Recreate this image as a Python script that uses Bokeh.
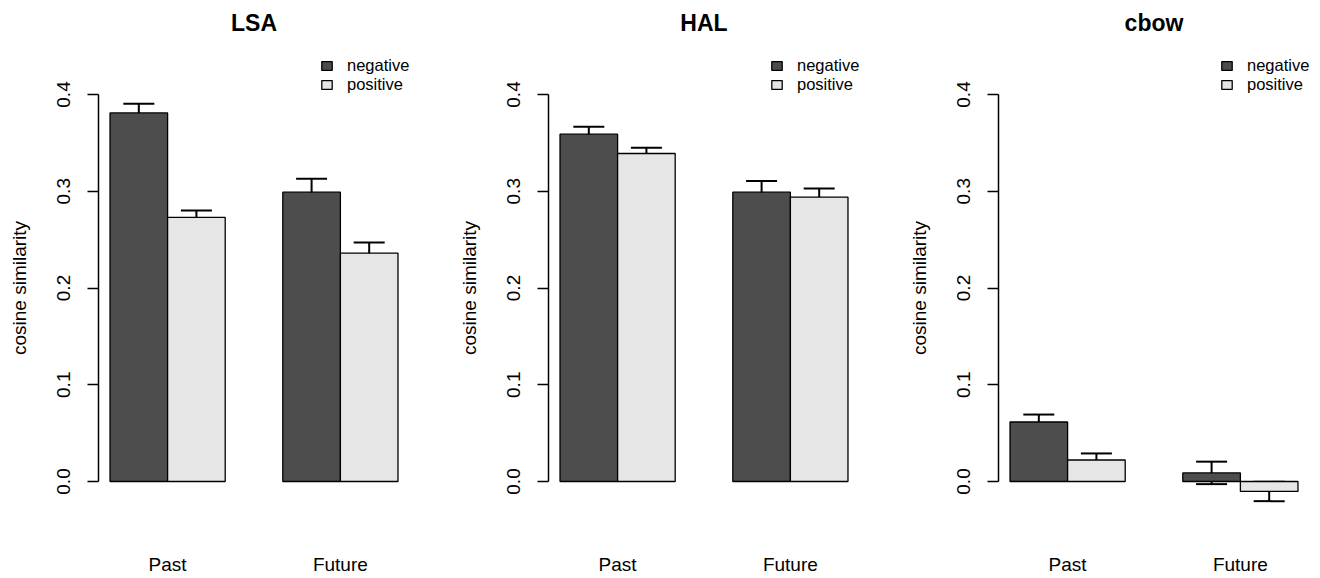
from bokeh.plotting import figure
from bokeh.layouts import row
from bokeh.models import (ColumnDataSource, Whisker, TeeHead, FixedTicker, PrintfTickFormatter,
                          Range1d, LinearAxis)
from bokeh.embed import file_html
from bokeh.resources import INLINE

# ---- data ----
categories = ["Past", "Future"]
series = ["negative", "positive"]
panels = ["LSA", "HAL", "cbow"]

lsa_negative = [0.381, 0.299]
lsa_positive = [0.273, 0.236]
lsa_negative_se = [0.0095, 0.014]
lsa_positive_se = [0.007, 0.011]

hal_negative = [0.359, 0.299]
hal_positive = [0.339, 0.294]
hal_negative_se = [0.0077, 0.0115]
hal_positive_se = [0.006, 0.0088]

cbow_negative = [0.0615, 0.0089]
cbow_positive = [0.0222, -0.0103]
cbow_negative_se = [0.0077, 0.0116]
cbow_positive_se = [0.0068, 0.0100]

y_ticks = [0.0, 0.1, 0.2, 0.3, 0.4]
y_label = "cosine similarity"

means = {"LSA": [lsa_negative, lsa_positive],
         "HAL": [hal_negative, hal_positive],
         "cbow": [cbow_negative, cbow_positive]}
ses = {"LSA": [lsa_negative_se, lsa_positive_se],
       "HAL": [hal_negative_se, hal_positive_se],
       "cbow": [cbow_negative_se, cbow_positive_se]}

colors = ["#4d4d4d", "#e6e6e6"]
FONT = "Liberation Sans"

# layout in pixels (figure coordinates)
PX_PER_UNIT = 967.5
FIG_H = 578
FRAME_TOP = 54
FRAME_BOTTOM = 521
ZERO_Y = 481
y_start = -(FRAME_BOTTOM - ZERO_Y) / PX_PER_UNIT
y_end = (ZERO_Y - FRAME_TOP) / PX_PER_UNIT


def make_panel(name, right_border):
    p = figure(frame_width=311, frame_height=FRAME_BOTTOM - FRAME_TOP,
               output_backend="svg", toolbar_location=None,
               x_range=Range1d(0.8, 6.2), y_range=Range1d(y_start, y_end),
               min_border_left=98, min_border_right=right_border,
               min_border_top=FRAME_TOP, min_border_bottom=FIG_H - FRAME_BOTTOM,
               background_fill_color="white", border_fill_color="white")
    p.outline_line_color = None
    p.xgrid.visible = False
    p.ygrid.visible = False
    p.title.text = ""
    p.title.standoff = 0

    # panel title, drawn as the label of a bare axis above the frame
    ta = LinearAxis(ticker=FixedTicker(ticks=[]), axis_label=name)
    ta.axis_line_color = None
    ta.major_tick_line_color = None
    ta.minor_tick_line_color = None
    ta.major_tick_out = 0
    ta.major_tick_in = 0
    ta.major_label_standoff = 0
    ta.axis_label_standoff = 19
    ta.axis_label_text_font = FONT
    ta.axis_label_text_font_size = "23px"
    ta.axis_label_text_font_style = "bold"
    ta.axis_label_text_color = "black"
    p.add_layout(ta, "above")

    ngroups = len(categories)
    nser = len(series)
    for j, s in enumerate(series):
        xs = [1.5 + (nser + 1) * i + j for i in range(ngroups)]
        m = means[name][j]
        e = ses[name][j]
        src = ColumnDataSource(dict(x=xs, top=m,
                                    upper=[a + b for a, b in zip(m, e)],
                                    lower=[a - b for a, b in zip(m, e)]))
        p.vbar(x="x", top="top", bottom=0, width=1.0, source=src,
               fill_color=colors[j], line_color="black", line_width=1.3,
               legend_label=s)
        w = Whisker(base="x", upper="upper", lower="lower", source=src,
                    line_color="black", line_width=2,
                    upper_head=TeeHead(size=31, line_width=2, line_color="black"),
                    lower_head=TeeHead(size=31, line_width=2, line_color="black"))
        p.add_layout(w)

    # y axis
    ya = p.yaxis[0]
    ya.ticker = FixedTicker(ticks=y_ticks)
    ya.formatter = PrintfTickFormatter(format="%.1f")
    ya.bounds = (min(y_ticks), max(y_ticks))
    ya.major_tick_out = 11
    ya.major_tick_in = 0
    ya.minor_tick_line_color = None
    ya.axis_line_width = 1.5
    ya.major_tick_line_width = 1.5
    ya.axis_line_color = "black"
    ya.major_tick_line_color = "black"
    ya.major_label_orientation = "vertical"
    ya.major_label_text_font = FONT
    ya.major_label_text_font_size = "19px"
    ya.major_label_text_color = "black"
    ya.major_label_standoff = 18
    ya.axis_label = y_label
    ya.axis_label_text_font = FONT
    ya.axis_label_text_font_size = "19px"
    ya.axis_label_text_font_style = "normal"
    ya.axis_label_text_color = "black"
    ya.axis_label_standoff = 24

    # x axis: category labels
    xa = p.below[0]
    centers = [1 + (nser + 1) * i + nser / 2 for i in range(ngroups)]
    xa.ticker = FixedTicker(ticks=centers)
    xa.major_label_overrides = {c: cat for c, cat in zip(centers, categories)}
    xa.axis_line_color = None
    xa.major_tick_line_color = None
    xa.minor_tick_line_color = None
    xa.major_tick_out = 0
    xa.major_tick_in = 0
    xa.major_label_standoff = 32
    xa.major_label_text_font = FONT
    xa.major_label_text_font_size = "19px"
    xa.major_label_text_color = "black"

    # legend
    lg = p.legend[0]
    lg.location = (222, FRAME_BOTTOM - 94)
    lg.glyph_width = 13
    lg.glyph_height = 11
    lg.label_height = 18
    lg.label_standoff = 14
    lg.spacing = 0
    lg.padding = 0
    lg.margin = 0
    lg.border_line_color = None
    lg.background_fill_alpha = 0
    lg.label_text_font = FONT
    lg.label_text_font_size = "16.5px"
    lg.label_text_color = "black"
    return p


p1 = make_panel("LSA", 41)
p2 = make_panel("HAL", 41)
p3 = make_panel("cbow", 11)

layout = row(p1, p2, p3)
open("out.html", "w").write(file_html(layout, INLINE))
